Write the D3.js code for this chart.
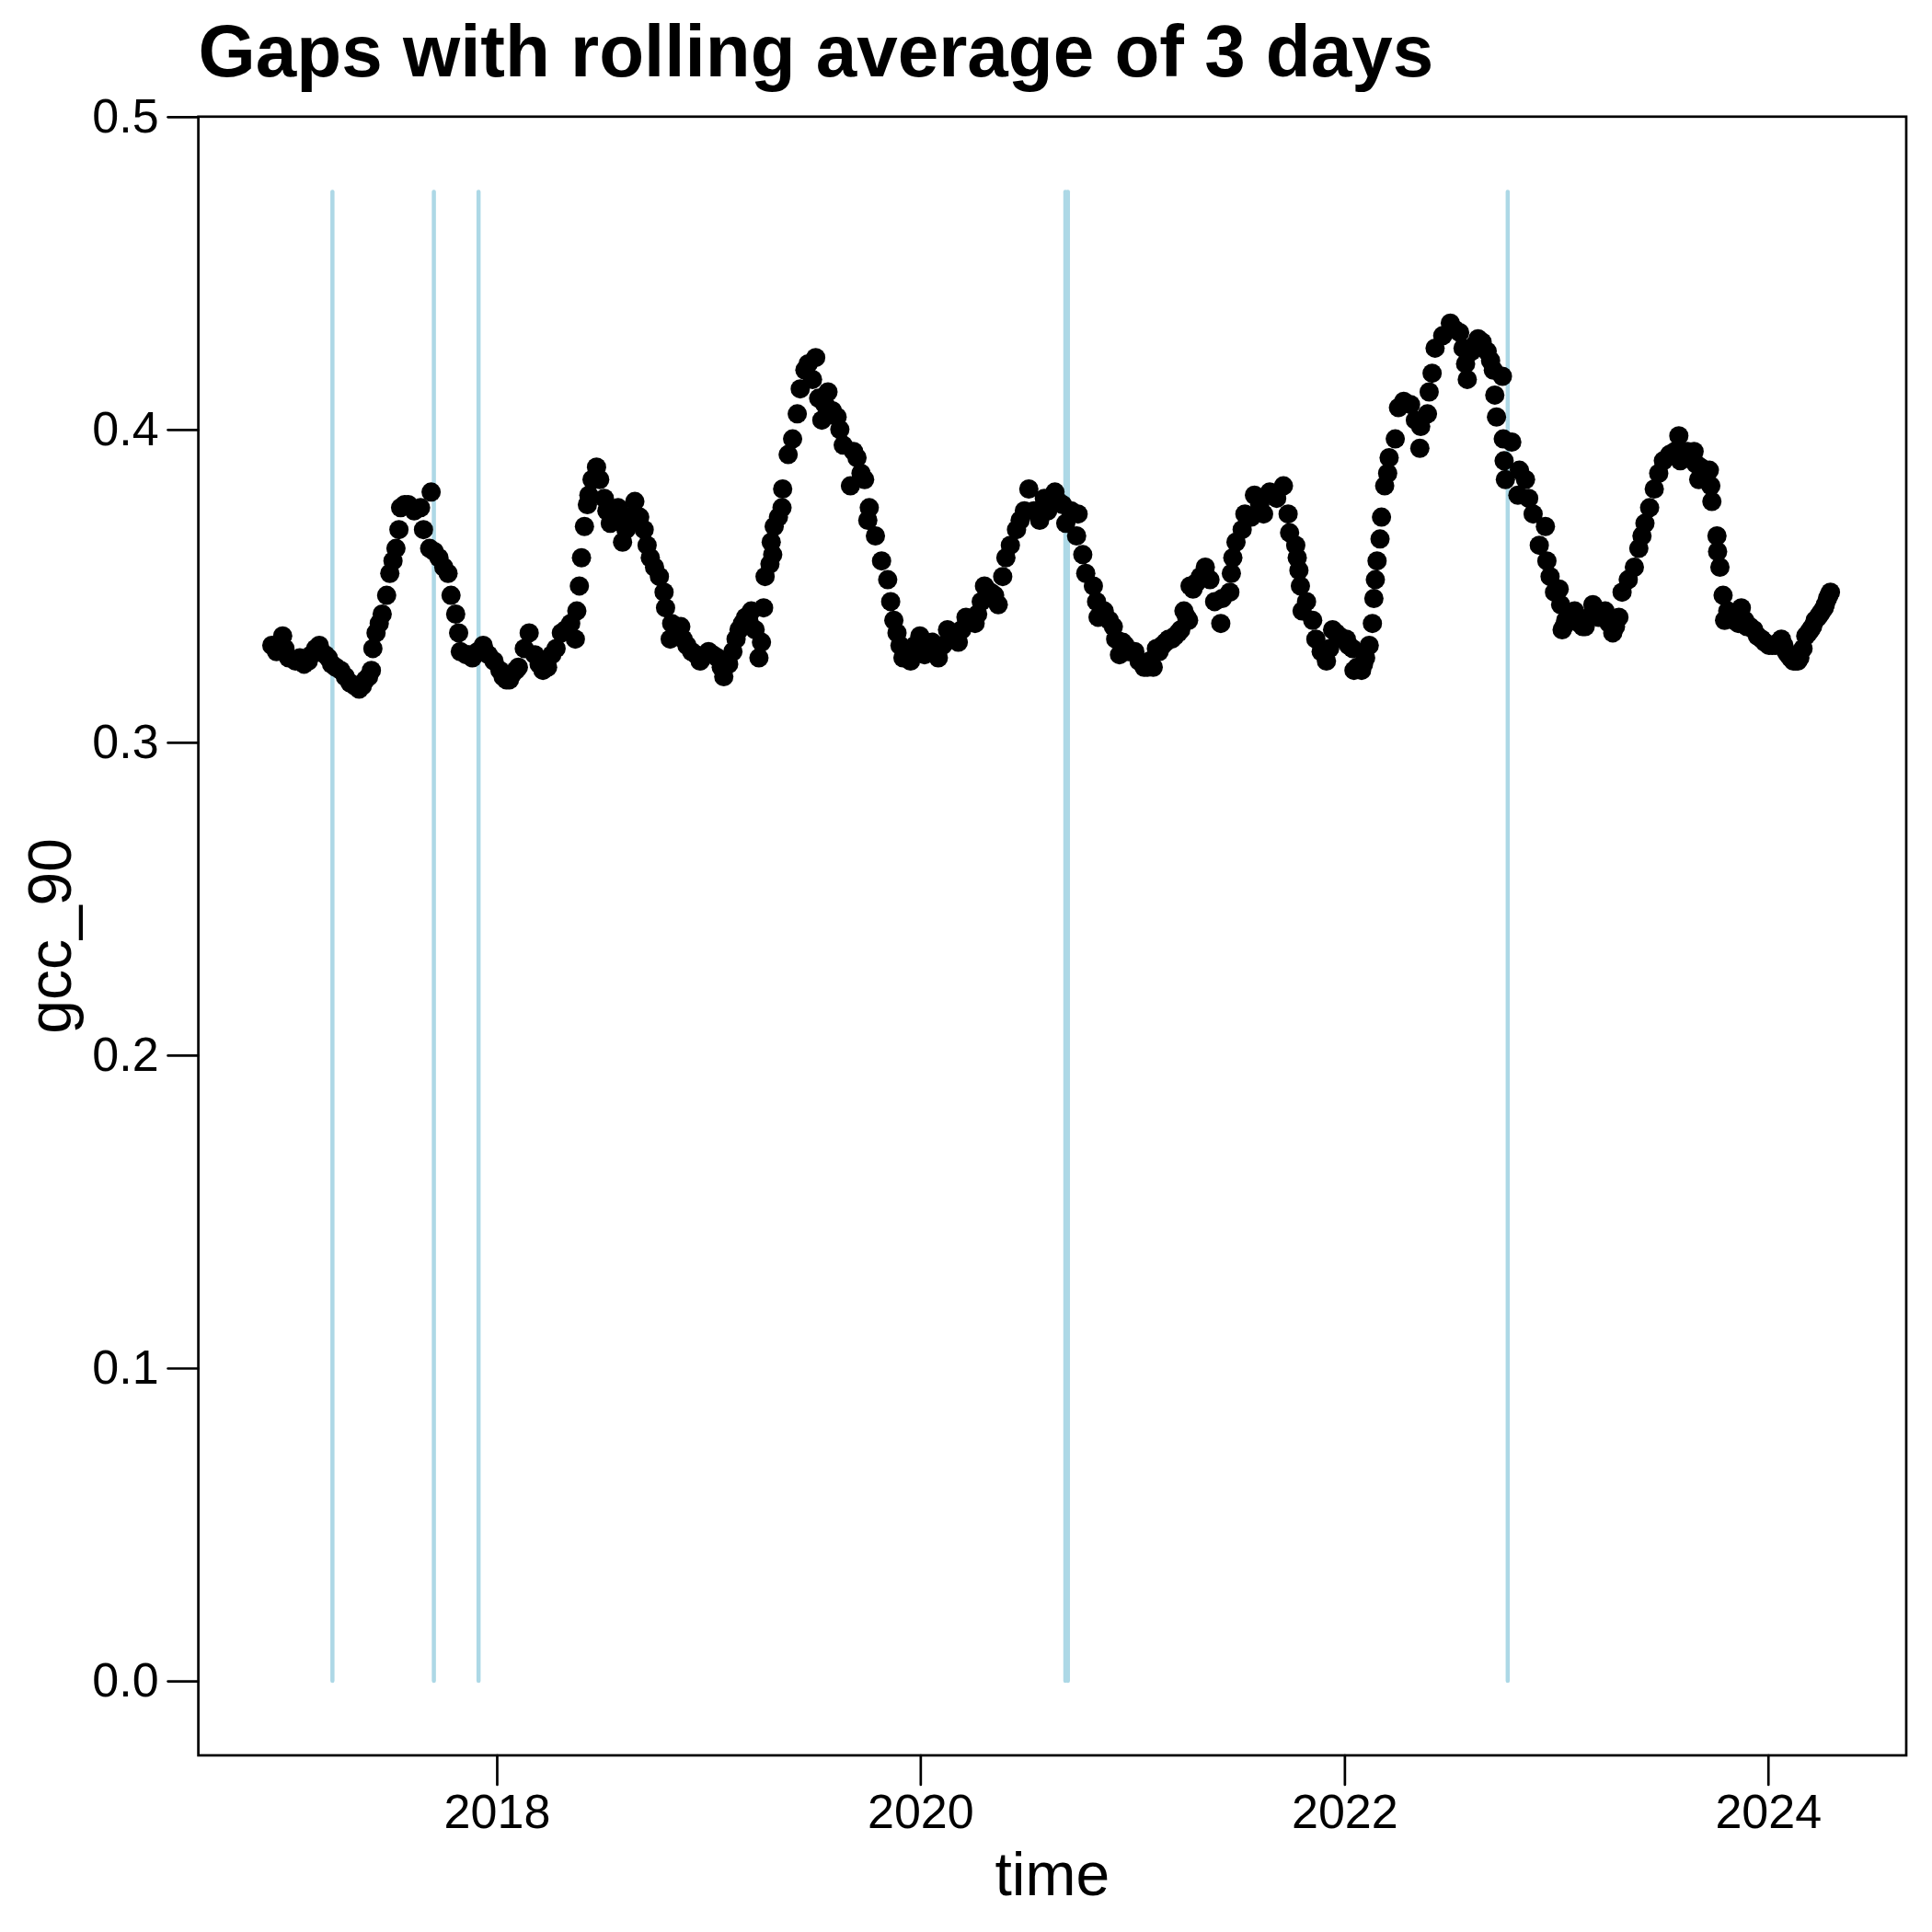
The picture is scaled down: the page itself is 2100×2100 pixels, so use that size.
<!DOCTYPE html>
<html>
<head>
<meta charset="utf-8">
<script src="https://cdn.jsdelivr.net/npm/d3@7"></script>
<style>
  body { margin: 0; background: #fff; }
  svg { display: block; }
  text { font-family: "Liberation Sans", Arial, Helvetica, sans-serif; }
</style>
</head>
<body>
<svg id="chart" width="2100" height="2100"></svg>
<script>
// gcc_90 readings (decimal year, value), one array per calendar year
const points2017 = [[2016.938,0.331],[2016.96,0.329],[2016.989,0.334],[2017.0,0.330],[2017.017,0.327],[2017.05,0.326],[2017.07,0.327],[2017.09,0.325],[2017.11,0.326],[2017.125,0.328],[2017.145,0.330],[2017.162,0.331],[2017.19,0.328],[2017.205,0.327],[2017.22,0.325],[2017.24,0.324],[2017.263,0.323],[2017.285,0.321],[2017.307,0.319],[2017.33,0.318],[2017.35,0.317],[2017.365,0.318],[2017.38,0.320],[2017.395,0.321],[2017.408,0.323],[2017.415,0.330],[2017.43,0.335],[2017.445,0.338],[2017.459,0.341],[2017.48,0.347],[2017.495,0.354],[2017.51,0.358],[2017.524,0.362],[2017.538,0.368],[2017.546,0.375],[2017.565,0.376],[2017.582,0.376],[2017.61,0.374],[2017.64,0.375],[2017.654,0.368],[2017.683,0.362],[2017.69,0.380],[2017.705,0.361],[2017.727,0.359],[2017.75,0.356],[2017.77,0.354],[2017.784,0.347],[2017.806,0.341],[2017.82,0.335],[2017.828,0.329],[2017.855,0.328],[2017.87,0.328],[2017.885,0.327],[2017.91,0.329],[2017.936,0.331],[2017.945,0.329],[2017.96,0.328],[2017.987,0.326]];
const points2018 = [[2018.015,0.323],[2018.03,0.321],[2018.045,0.320],[2018.06,0.320],[2018.075,0.322],[2018.09,0.323],[2018.102,0.324],[2018.13,0.330],[2018.153,0.335],[2018.18,0.328],[2018.2,0.325],[2018.218,0.323],[2018.24,0.324],[2018.26,0.328],[2018.28,0.330],[2018.305,0.335],[2018.325,0.336],[2018.349,0.338],[2018.371,0.333],[2018.378,0.342],[2018.39,0.350],[2018.4,0.359],[2018.414,0.369],[2018.428,0.376],[2018.435,0.379],[2018.45,0.384],[2018.471,0.388],[2018.486,0.384],[2018.508,0.378],[2018.52,0.374],[2018.536,0.370],[2018.555,0.372],[2018.573,0.375],[2018.594,0.364],[2018.61,0.368],[2018.62,0.372],[2018.64,0.371],[2018.652,0.377],[2018.675,0.372],[2018.696,0.368],[2018.71,0.363],[2018.725,0.359],[2018.745,0.356],[2018.768,0.353],[2018.79,0.348],[2018.797,0.343],[2018.819,0.333],[2018.826,0.338],[2018.85,0.336],[2018.869,0.337],[2018.88,0.333],[2018.898,0.331],[2018.92,0.329],[2018.942,0.328],[2018.96,0.326],[2018.97,0.327]];
const points2019 = [[2019.0,0.329],[2019.02,0.328],[2019.043,0.327],[2019.06,0.324],[2019.072,0.321],[2019.095,0.325],[2019.115,0.329],[2019.13,0.333],[2019.144,0.336],[2019.16,0.338],[2019.175,0.340],[2019.19,0.339],[2019.202,0.342],[2019.22,0.336],[2019.238,0.327],[2019.25,0.332],[2019.26,0.343],[2019.267,0.353],[2019.29,0.357],[2019.296,0.364],[2019.303,0.360],[2019.31,0.369],[2019.33,0.372],[2019.347,0.375],[2019.35,0.381],[2019.376,0.392],[2019.397,0.397],[2019.419,0.405],[2019.433,0.413],[2019.455,0.419],[2019.47,0.421],[2019.491,0.416],[2019.506,0.423],[2019.52,0.410],[2019.535,0.403],[2019.55,0.408],[2019.564,0.412],[2019.585,0.406],[2019.607,0.404],[2019.62,0.400],[2019.636,0.395],[2019.67,0.382],[2019.685,0.393],[2019.701,0.391],[2019.72,0.386],[2019.737,0.384],[2019.752,0.371],[2019.759,0.375],[2019.788,0.366],[2019.817,0.358],[2019.846,0.352],[2019.86,0.345],[2019.875,0.339],[2019.89,0.335],[2019.904,0.331],[2019.918,0.327],[2019.935,0.327],[2019.954,0.326],[2019.975,0.331]];
const points2020 = [[2019.998,0.334],[2020.0,0.330],[2020.02,0.328],[2020.04,0.330],[2020.056,0.332],[2020.07,0.329],[2020.085,0.327],[2020.105,0.331],[2020.128,0.336],[2020.14,0.333],[2020.155,0.334],[2020.179,0.332],[2020.195,0.336],[2020.215,0.340],[2020.235,0.339],[2020.258,0.338],[2020.27,0.341],[2020.287,0.345],[2020.302,0.350],[2020.315,0.347],[2020.33,0.348],[2020.35,0.347],[2020.367,0.344],[2020.388,0.353],[2020.403,0.359],[2020.424,0.363],[2020.453,0.368],[2020.47,0.371],[2020.49,0.374],[2020.511,0.381],[2020.535,0.374],[2020.562,0.371],[2020.584,0.378],[2020.6,0.374],[2020.61,0.378],[2020.634,0.380],[2020.65,0.377],[2020.67,0.376],[2020.685,0.370],[2020.71,0.374],[2020.743,0.373],[2020.736,0.366],[2020.765,0.360],[2020.779,0.354],[2020.815,0.350],[2020.83,0.345],[2020.837,0.340],[2020.866,0.342],[2020.89,0.339],[2020.909,0.337],[2020.92,0.333],[2020.938,0.328],[2020.953,0.332],[2020.965,0.331],[2020.98,0.329]];
const points2021 = [[2021.01,0.329],[2021.03,0.326],[2021.054,0.324],[2021.07,0.324],[2021.08,0.326],[2021.097,0.324],[2021.112,0.330],[2021.125,0.329],[2021.14,0.331],[2021.155,0.332],[2021.17,0.333],[2021.185,0.333],[2021.2,0.334],[2021.215,0.335],[2021.227,0.336],[2021.242,0.342],[2021.255,0.340],[2021.264,0.339],[2021.271,0.350],[2021.285,0.349],[2021.3,0.351],[2021.32,0.353],[2021.343,0.356],[2021.365,0.352],[2021.387,0.345],[2021.416,0.338],[2021.423,0.346],[2021.459,0.348],[2021.466,0.354],[2021.473,0.359],[2021.488,0.364],[2021.517,0.368],[2021.53,0.373],[2021.56,0.372],[2021.575,0.379],[2021.6,0.376],[2021.618,0.373],[2021.647,0.380],[2021.68,0.378],[2021.712,0.382],[2021.734,0.373],[2021.741,0.367],[2021.77,0.363],[2021.777,0.359],[2021.785,0.355],[2021.792,0.350],[2021.8,0.342],[2021.821,0.345],[2021.85,0.339],[2021.865,0.333],[2021.89,0.329],[2021.915,0.326],[2021.93,0.330],[2021.944,0.336],[2021.96,0.335],[2021.975,0.334],[2021.99,0.333]];
const points2022 = [[2022.009,0.333],[2022.02,0.331],[2022.038,0.330],[2022.045,0.323],[2022.06,0.324],[2022.081,0.323],[2022.09,0.325],[2022.1,0.327],[2022.117,0.331],[2022.132,0.338],[2022.139,0.346],[2022.146,0.352],[2022.154,0.358],[2022.168,0.365],[2022.175,0.372],[2022.19,0.382],[2022.204,0.386],[2022.211,0.391],[2022.24,0.397],[2022.255,0.407],[2022.28,0.409],[2022.312,0.408],[2022.335,0.403],[2022.356,0.394],[2022.36,0.401],[2022.392,0.405],[2022.4,0.412],[2022.414,0.418],[2022.428,0.426],[2022.464,0.430],[2022.5,0.434],[2022.52,0.432],[2022.544,0.431],[2022.56,0.426],[2022.572,0.421],[2022.58,0.416],[2022.6,0.425],[2022.615,0.427],[2022.631,0.429],[2022.65,0.428],[2022.674,0.425],[2022.69,0.422],[2022.703,0.419],[2022.71,0.411],[2022.718,0.404],[2022.746,0.417],[2022.75,0.397],[2022.754,0.390],[2022.76,0.384],[2022.79,0.396],[2022.819,0.379],[2022.826,0.387],[2022.855,0.384],[2022.87,0.378],[2022.891,0.373],[2022.92,0.363],[2022.949,0.369],[2022.956,0.358],[2022.971,0.353],[2022.992,0.348]];
const points2023 = [[2023.014,0.349],[2023.021,0.344],[2023.028,0.336],[2023.036,0.337],[2023.045,0.339],[2023.06,0.340],[2023.075,0.341],[2023.087,0.342],[2023.1,0.340],[2023.11,0.338],[2023.125,0.337],[2023.137,0.337],[2023.155,0.340],[2023.173,0.344],[2023.185,0.342],[2023.2,0.340],[2023.215,0.341],[2023.231,0.342],[2023.25,0.338],[2023.267,0.335],[2023.28,0.337],[2023.296,0.340],[2023.311,0.348],[2023.34,0.352],[2023.369,0.356],[2023.39,0.362],[2023.405,0.366],[2023.419,0.370],[2023.441,0.375],[2023.463,0.381],[2023.484,0.386],[2023.506,0.390],[2023.535,0.392],[2023.56,0.393],[2023.579,0.398],[2023.586,0.390],[2023.6,0.392],[2023.62,0.393],[2023.635,0.392],[2023.651,0.393],[2023.66,0.389],[2023.673,0.384],[2023.68,0.388],[2023.7,0.386],[2023.723,0.387],[2023.73,0.382],[2023.735,0.377],[2023.759,0.366],[2023.762,0.361],[2023.773,0.356],[2023.788,0.347],[2023.795,0.339],[2023.81,0.342],[2023.82,0.340],[2023.84,0.339],[2023.86,0.338],[2023.874,0.343],[2023.89,0.339],[2023.9,0.337],[2023.915,0.337],[2023.933,0.336],[2023.95,0.334],[2023.97,0.333],[2023.985,0.332]];
const points2024 = [[2024.005,0.331],[2024.02,0.331],[2024.035,0.331],[2024.05,0.332],[2024.063,0.333],[2024.075,0.331],[2024.085,0.329],[2024.095,0.328],[2024.106,0.327],[2024.12,0.326],[2024.13,0.326],[2024.14,0.326],[2024.15,0.327],[2024.165,0.330],[2024.178,0.334],[2024.19,0.335],[2024.2,0.336],[2024.21,0.337],[2024.222,0.339],[2024.235,0.340],[2024.245,0.341],[2024.255,0.342],[2024.265,0.343],[2024.27,0.344],[2024.28,0.346],[2024.287,0.347],[2024.294,0.348]];

// dates of the gaps, and how high the gap markers reach
const gapYears = [2017.224, 2017.703, 2017.914, 2020.683, 2020.695, 2022.771];
const gapTop = 0.476;

// axis limits and ticks
const xLimitYears = [2016.592, 2024.651];
const yLimits = [-0.0238, 0.5];
const xTickYears = [2018, 2020, 2022, 2024];
const yTicks = [0, 0.1, 0.2, 0.3, 0.4, 0.5];

const chartTitle = "Gaps with rolling average of 3 days";
const xTitle = "time";
const yTitle = "gcc_90";

// decimal year -> Date
function yearToDate(y) {
  const yr = Math.floor(y);
  const s = Date.UTC(yr, 0, 1), e = Date.UTC(yr + 1, 0, 1);
  return new Date(s + (y - yr) * (e - s));
}

const points = [].concat(points2017, points2018, points2019, points2020,
  points2021, points2022, points2023, points2024)
  .map(([t, v]) => ({ date: yearToDate(t), v: v }));

const panel = { left: 215.6, right: 2072, top: 126.8, bottom: 1908 };

const x = d3.scaleUtc()
  .domain(xLimitYears.map(yearToDate))
  .range([panel.left, panel.right]);
const y = d3.scaleLinear()
  .domain(yLimits)
  .range([panel.bottom, panel.top]);

const svg = d3.select("#chart");

// gap markers
svg.append("g")
  .selectAll("line")
  .data(gapYears)
  .join("line")
  .attr("x1", d => x(yearToDate(d)))
  .attr("x2", d => x(yearToDate(d)))
  .attr("y1", y(0))
  .attr("y2", y(gapTop))
  .attr("stroke", "#ADD8E6")
  .attr("stroke-width", 4.5)
  .attr("stroke-linecap", "round");

// points
svg.append("g")
  .selectAll("circle")
  .data(points)
  .join("circle")
  .attr("cx", d => x(d.date))
  .attr("cy", d => y(d.v))
  .attr("r", 10.5)
  .attr("fill", "#000");

// panel border
svg.append("rect")
  .attr("x", panel.left)
  .attr("y", panel.top)
  .attr("width", panel.right - panel.left)
  .attr("height", panel.bottom - panel.top)
  .attr("fill", "none")
  .attr("stroke", "#000")
  .attr("stroke-width", 2.7);

// axes
const xAxis = svg.append("g")
  .attr("transform", `translate(0,${panel.bottom})`)
  .call(d3.axisBottom(x)
    .tickValues(xTickYears.map(yearToDate))
    .tickFormat(d3.utcFormat("%Y"))
    .tickSize(32)
    .tickPadding(10));

const yAxis = svg.append("g")
  .attr("transform", `translate(${panel.left},0)`)
  .call(d3.axisLeft(y)
    .tickValues(yTicks)
    .tickFormat(d3.format(".1f"))
    .tickSize(33)
    .tickPadding(10));

[xAxis, yAxis].forEach(g => {
  g.select(".domain").remove();
  g.attr("font-family", null).attr("font-size", null);
  g.selectAll(".tick line")
    .attr("stroke", "#000")
    .attr("stroke-width", 2.7)
    .attr("stroke-linecap", "round");
  g.selectAll(".tick text")
    .attr("fill", "#000")
    .style("font-size", "52px");
});

// titles
svg.append("text")
  .attr("x", panel.left)
  .attr("y", 83)
  .style("font-size", "80px")
  .style("font-weight", "bold")
  .text(chartTitle);

svg.append("text")
  .attr("x", (panel.left + panel.right) / 2)
  .attr("y", 2060)
  .attr("text-anchor", "middle")
  .style("font-size", "66px")
  .text(xTitle);

svg.append("text")
  .attr("transform", `translate(77,${(panel.top + panel.bottom) / 2}) rotate(-90)`)
  .attr("text-anchor", "middle")
  .style("font-size", "66px")
  .text(yTitle);
</script>
</body>
</html>
